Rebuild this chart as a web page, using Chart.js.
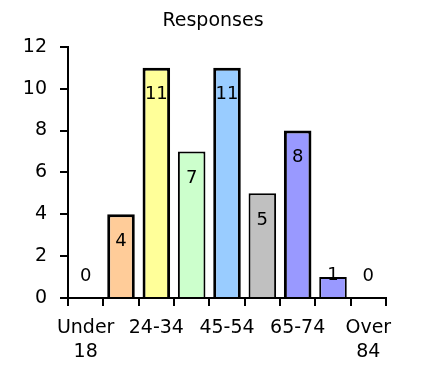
<!DOCTYPE html>
<html>
<head>
<meta charset="utf-8">
<script src="https://cdn.jsdelivr.net/npm/chart.js@4"></script>
<style>
  html, body { margin: 0; background: #fff; }
  #wrap { width: 426px; height: 390px; }
</style>
</head>
<body>
<div id="wrap"><canvas id="responsesChart"></canvas></div>
<script>
// age groups and response counts
const categories = [["Under", "18"], "18-23", "24-34", "35-44", "45-54", "55-64", "65-74", "75-84", ["Over", "84"]];
const responses = [0, 4, 11, 7, 11, 5, 8, 1, 0];
const barColors = ["#9999FF", "#FFCC99", "#FFFF99", "#CCFFCC", "#99CCFF", "#C0C0C0", "#9999FF", "#9999FF", "#9999FF"];
const borderWidths = [2, 3, 3, 2, 3, 2, 3, 2, 2];

Chart.defaults.font.family = "'DejaVu Sans', sans-serif";
Chart.defaults.color = "#000";

// value labels drawn inside the top of each bar
const valueLabels = {
  id: "valueLabels",
  afterDatasetsDraw(chart) {
    const ctx = chart.ctx;
    const meta = chart.getDatasetMeta(0);
    ctx.save();
    ctx.font = "18px 'DejaVu Sans', sans-serif";
    ctx.fillStyle = "#000";
    ctx.textAlign = "center";
    ctx.textBaseline = "middle";
    meta.data.forEach((bar, i) => {
      const y = Math.min(bar.y + 27, bar.base - 22);
      ctx.fillText(String(responses[i]), bar.x, y);
    });
    ctx.restore();
  }
};

new Chart("responsesChart", {
  type: "bar",
  data: {
    labels: categories,
    datasets: [{
      label: "Responses",
      data: responses,
      backgroundColor: barColors,
      borderColor: "#000",
      borderWidth: borderWidths,
      borderSkipped: "bottom",
      categoryPercentage: 1,
      barPercentage: 0.78
    }]
  },
  options: {
    responsive: true,
    maintainAspectRatio: false,
    animation: false,
    layout: { padding: 0 },
    plugins: {
      legend: { display: false },
      tooltip: { enabled: false },
      title: {
        display: true,
        text: "Responses",
        font: { size: 19, weight: "normal" },
        color: "#000",
        padding: { top: 10, bottom: 14 }
      }
    },
    scales: {
      x: {
        offset: true,
        grid: {
          display: true,
          offset: true,
          drawOnChartArea: false,
          drawTicks: true,
          tickLength: 8,
          color: "#000",
          lineWidth: 2
        },
        border: { display: true, color: "#000", width: 2 },
        ticks: {
          autoSkip: false,
          maxRotation: 0,
          font: { size: 19, lineHeight: 1.25 },
          padding: 10,
          callback: function (value, index) {
            return index % 2 === 0 ? this.getLabelForValue(value) : "";
          }
        },
        afterFit(scale) { scale.height = 92; }
      },
      y: {
        min: 0,
        max: 12,
        grid: {
          display: true,
          drawOnChartArea: false,
          drawTicks: true,
          tickLength: 8,
          color: "#000",
          lineWidth: 2
        },
        border: { display: true, color: "#000", width: 2 },
        ticks: {
          stepSize: 2,
          font: { size: 19 },
          padding: 13
        },
        afterFit(scale) { scale.width = 68; }
      },
      // empty right-hand axis, only keeps space on the right so the title stays centred on the page
      spacer: {
        position: "right",
        min: 0,
        max: 12,
        grid: { display: false },
        border: { display: false },
        ticks: { display: false },
        afterFit(scale) { scale.width = 40; }
      }
    }
  },
  plugins: [valueLabels]
});
</script>
</body>
</html>
